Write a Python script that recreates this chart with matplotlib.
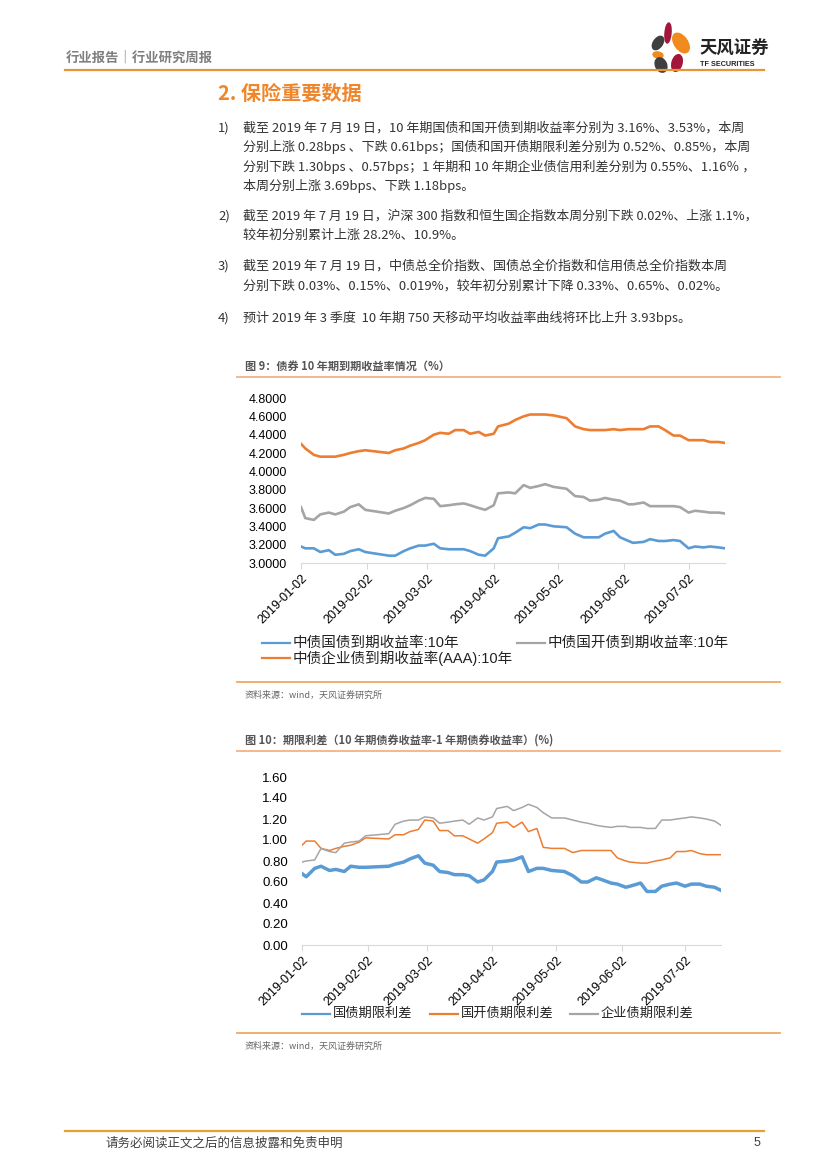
import matplotlib
matplotlib.use("Agg")
import matplotlib.pyplot as plt
import matplotlib.dates as mdates
from matplotlib.ticker import FormatStrFormatter, MultipleLocator
from matplotlib.patches import Ellipse
import pandas as pd

plt.rcParams['font.family'] = ['Liberation Sans', 'Noto Sans CJK SC']
CJK = ['Noto Sans CJK SC', 'DejaVu Sans']

# ---- data ----
dates = pd.to_datetime([
    "2019-01-02", "2019-01-04", "2019-01-08", "2019-01-11", "2019-01-15", "2019-01-18",
    "2019-01-22", "2019-01-25", "2019-01-29", "2019-02-01", "2019-02-12", "2019-02-15",
    "2019-02-19", "2019-02-22", "2019-02-26", "2019-03-01", "2019-03-05", "2019-03-08",
    "2019-03-12", "2019-03-15", "2019-03-19", "2019-03-22", "2019-03-26", "2019-03-29",
    "2019-04-02", "2019-04-04", "2019-04-09", "2019-04-12", "2019-04-16", "2019-04-19",
    "2019-04-23", "2019-04-26", "2019-04-30", "2019-05-06", "2019-05-10", "2019-05-14",
    "2019-05-17", "2019-05-21", "2019-05-24", "2019-05-28", "2019-05-31", "2019-06-04",
    "2019-06-06", "2019-06-11", "2019-06-14", "2019-06-18", "2019-06-21", "2019-06-25",
    "2019-06-28", "2019-07-02", "2019-07-05", "2019-07-09", "2019-07-12", "2019-07-16",
    "2019-07-19"])

# fig 9: 10y yields
gov_10y = [3.18, 3.16, 3.16, 3.12, 3.14, 3.09, 3.10, 3.13, 3.15, 3.12,
           3.08, 3.08, 3.13, 3.16, 3.19,
           3.19, 3.21, 3.16, 3.15, 3.15, 3.15, 3.13, 3.09, 3.08,
           3.16, 3.27, 3.29, 3.33, 3.39, 3.38, 3.42, 3.42, 3.40,
           3.39, 3.32, 3.28, 3.28, 3.28, 3.32, 3.35, 3.28,
           3.24, 3.22, 3.23, 3.26, 3.24, 3.24, 3.25, 3.24,
           3.16, 3.18, 3.17, 3.18, 3.17, 3.16]
cdb_10y = [3.61, 3.49, 3.47, 3.53, 3.55, 3.53, 3.56, 3.61, 3.64, 3.58,
           3.54, 3.57, 3.60, 3.63, 3.68,
           3.71, 3.70, 3.62, 3.63, 3.64, 3.65, 3.63, 3.60, 3.58,
           3.63, 3.76, 3.77, 3.76, 3.85, 3.82, 3.84, 3.86, 3.83,
           3.81, 3.73, 3.72, 3.68, 3.69, 3.71, 3.69, 3.68,
           3.64, 3.64, 3.66, 3.62, 3.62, 3.62, 3.62, 3.61,
           3.55, 3.57, 3.56, 3.55, 3.55, 3.54]
corp_10y = [4.30, 4.25, 4.18, 4.16, 4.16, 4.16, 4.18, 4.20, 4.22, 4.23,
            4.20, 4.23, 4.25, 4.28, 4.31,
            4.34, 4.40, 4.42, 4.41, 4.45, 4.45, 4.41, 4.43, 4.39,
            4.41, 4.49, 4.52, 4.56, 4.60, 4.62, 4.62, 4.62, 4.61,
            4.58, 4.49, 4.46, 4.45, 4.45, 4.45, 4.46, 4.45,
            4.46, 4.46, 4.46, 4.49, 4.49, 4.45, 4.39, 4.39,
            4.34, 4.34, 4.34, 4.32, 4.32, 4.31]

# fig 10: term spreads
gov_spread = [0.68, 0.65, 0.73, 0.75, 0.71, 0.72, 0.70, 0.75, 0.74, 0.74,
              0.75, 0.77, 0.79, 0.82, 0.85,
              0.78, 0.76, 0.70, 0.69, 0.67, 0.67, 0.66, 0.60, 0.62,
              0.70, 0.79, 0.80, 0.81, 0.84, 0.70, 0.73, 0.73, 0.71,
              0.70, 0.66, 0.60, 0.60, 0.64, 0.62, 0.59, 0.58,
              0.55, 0.56, 0.59, 0.51, 0.51, 0.56, 0.58, 0.59,
              0.56, 0.58, 0.58, 0.56, 0.55, 0.52]
cdb_spread = [0.95, 0.99, 0.99, 0.92, 0.90, 0.92, 0.94, 0.95, 0.98, 1.02,
              1.01, 1.05, 1.05, 1.08, 1.10,
              1.19, 1.18, 1.09, 1.09, 1.04, 1.04, 1.01, 0.97, 1.01,
              1.07, 1.16, 1.17, 1.12, 1.17, 1.08, 1.11, 0.93, 0.92,
              0.92, 0.88, 0.90, 0.90, 0.90, 0.90, 0.90, 0.83,
              0.80, 0.79, 0.78, 0.78, 0.80, 0.81, 0.83, 0.89,
              0.89, 0.90, 0.87, 0.86, 0.86, 0.86]
corp_spread = [0.79, 0.80, 0.81, 0.92, 0.89, 0.88, 0.97, 0.98, 0.99, 1.04,
               1.06, 1.15, 1.18, 1.19, 1.19,
               1.22, 1.21, 1.16, 1.17, 1.18, 1.19, 1.15, 1.21, 1.19,
               1.22, 1.30, 1.32, 1.28, 1.31, 1.34, 1.31, 1.26, 1.21,
               1.21, 1.19, 1.17, 1.16, 1.14, 1.13, 1.12, 1.13,
               1.13, 1.12, 1.12, 1.11, 1.11, 1.19, 1.19, 1.20,
               1.21, 1.22, 1.21, 1.20, 1.18, 1.14]

legend9 = ["中债国债到期收益率:10年", "中债国开债到期收益率:10年", "中债企业债到期收益率(AAA):10年"]
legend10 = ["国债期限利差", "国开债期限利差", "企业债期限利差"]

paragraphs = [
    ["截至 2019 年 7 月 19 日，10 年期国债和国开债到期收益率分别为 3.16%、3.53%，本周",
     "分别上涨 0.28bps 、下跌 0.61bps；国债和国开债期限利差分别为 0.52%、0.85%，本周",
     "分别下跌 1.30bps 、0.57bps；1 年期和 10 年期企业债信用利差分别为 0.55%、1.16％ ，",
     "本周分别上涨 3.69bps、下跌 1.18bps。"],
    ["截至 2019 年 7 月 19 日，沪深 300 指数和恒生国企指数本周分别下跌 0.02%、上涨 1.1%，",
     "较年初分别累计上涨 28.2%、10.9%。"],
    ["截至 2019 年 7 月 19 日，中债总全价指数、国债总全价指数和信用债总全价指数本周",
     "分别下跌 0.03%、0.15%、0.019%，较年初分别累计下降 0.33%、0.65%、0.02%。"],
    ["预计 2019 年 3 季度  10 年期 750 天移动平均收益率曲线将环比上升 3.93bps。"],
]

BLUE, ORANGE, GRAY = "#5B9BD5", "#ED7D31", "#A5A5A5"
W, H = 827, 1170

fig = plt.figure(figsize=(W / 100, H / 100), dpi=100)
renderer = fig.canvas.get_renderer()

# page layer in pixel coordinates
page = fig.add_axes([0, 0, 1, 1])
page.set_xlim(0, W)
page.set_ylim(H, 0)
page.axis("off")

# header
page.text(66, 58, "行业报告｜行业研究周报", family=CJK, fontsize=9.6, color="#7F7F7F",
          weight="bold", va="center")
page.plot([65, 764], [70, 70], color="#E8923A", lw=1.6)
petals = [((668, 33), 6, 20, 5, "#A3153A"),
          ((681, 43), 13, 22, -35, "#F08A1C"),
          ((658, 43), 9, 15, 35, "#3F3F3F"),
          ((658, 55), 10, 6, 10, "#F08A1C"),
          ((677, 63), 10, 17, 15, "#A3153A"),
          ((661, 65), 11, 15, -25, "#3F3F3F")]
for c, w, h, a, col in petals:
    page.add_patch(Ellipse(c, w, h, angle=a, color=col))
page.text(699, 49, "天风证券", family=CJK, fontsize=12.5, weight="bold", color="#222222", va="center")
page.text(700, 64, "TF SECURITIES", fontsize=5.2, weight="bold", color="#222222", va="center")

# section title and text
page.text(218, 93, "2. 保险重要数据", family=CJK, fontsize=14.5, weight="bold", color="#F0862C",
          va="center")
line_y = [[128, 147, 167, 186], [216, 235], [266, 286], [318]]
BODY_FS = 9.4
for i, (para, ys) in enumerate(zip(paragraphs, line_y)):
    page.text(218, ys[0], f"{i + 1})", family=CJK, fontsize=BODY_FS, color="#333333", va="center")
    for j, (txt, y) in enumerate(zip(para, ys)):
        t = page.text(243, y, txt, family=CJK, fontsize=BODY_FS, color="#333333", va="center")
        if j < len(para) - 1:
            # full lines are justified in the report: only shrink the ones that overflow
            width = t.get_window_extent(renderer).width
            scale = min(max(512 / width, 0.95), 1.0)
            t.set_fontsize(BODY_FS * scale)

# figure captions and rules
def caption(y_title, y_rule, text):
    page.text(245, y_title, text, family=CJK, fontsize=8, weight="bold", color="#555555", va="center")
    page.plot([237, 780], [y_rule, y_rule], color="#F4B183", lw=1.3)

def source(y_rule, y_text):
    page.plot([237, 780], [y_rule, y_rule], color="#F0A860", lw=1.3)
    page.text(245, y_text, "资料来源：wind，天风证券研究所", family=CJK, fontsize=6.5,
              color="#666666", va="center")

caption(366, 377, "图 9：债券 10 年期到期收益率情况（%）")
source(682, 695)
caption(740, 751, "图 10：期限利差（10 年期债券收益率-1 年期债券收益率）(%)")
source(1033, 1046)

# footer
page.plot([65, 764], [1131, 1131], color="#E8A030", lw=1.6)
page.text(105, 1143, "请务必阅读正文之后的信息披露和免责申明", family=CJK, fontsize=9,
          color="#404040", va="center")
page.text(760, 1143, "5", fontsize=9, color="#404040", va="center", ha="right")


def style_axis(ax, ymin, ymax, fmt, fs):
    ax.set_xlim(pd.Timestamp("2019-01-02"), pd.Timestamp("2019-07-19"))
    ax.set_ylim(ymin, ymax)
    ax.yaxis.set_major_locator(MultipleLocator(0.2))
    ax.yaxis.set_major_formatter(FormatStrFormatter(fmt))
    ax.xaxis.set_major_locator(mdates.MonthLocator(bymonthday=2))
    ax.xaxis.set_major_formatter(mdates.DateFormatter("%Y-%m-%d"))
    for s in ["left", "right", "top"]:
        ax.spines[s].set_visible(False)
    ax.spines["bottom"].set_color("#D9D9D9")
    ax.tick_params(axis="y", length=0, pad=10, labelsize=fs)
    ax.tick_params(axis="x", length=4, color="#D9D9D9", pad=3, labelsize=9)
    for lab in ax.get_xticklabels():
        lab.set_rotation(45)
        lab.set_ha("right")
        lab.set_rotation_mode("anchor")
    ax.patch.set_alpha(0)


def legend_entry(x, y, color, lw, text, fs):
    page.plot([x, x + 28], [y, y], color=color, lw=lw)
    page.text(x + 31, y, text, fontsize=fs, color="#222222", va="center")


def ax_rect(left, right, top, bottom):
    return [left / W, 1 - bottom / H, (right - left) / W, (bottom - top) / H]


# fig 9
ax1 = fig.add_axes(ax_rect(301, 725, 398, 563))
ax1.plot(dates, gov_10y, color=BLUE, lw=1.9)
ax1.plot(dates, cdb_10y, color=GRAY, lw=1.9)
ax1.plot(dates, corp_10y, color=ORANGE, lw=1.9)
style_axis(ax1, 3.0, 4.8, "%.4f", 9)
legend_entry(262, 643, BLUE, 1.6, legend9[0], 10.5)
legend_entry(517, 643, GRAY, 1.6, legend9[1], 10.5)
legend_entry(262, 658, ORANGE, 1.6, legend9[2], 10.5)

# fig 10
ax2 = fig.add_axes(ax_rect(302, 721, 777, 945))
ax2.plot(dates, gov_spread, color=BLUE, lw=2.5)
ax2.plot(dates, cdb_spread, color=ORANGE, lw=1.1)
ax2.plot(dates, corp_spread, color=GRAY, lw=1.1)
style_axis(ax2, 0.0, 1.6, "%.2f", 9.5)
legend_entry(302, 1014, BLUE, 1.6, legend10[0], 9.5)
legend_entry(430, 1014, ORANGE, 1.6, legend10[1], 9.5)
legend_entry(570, 1014, GRAY, 1.6, legend10[2], 9.5)

fig.savefig("out.png", dpi=100)
